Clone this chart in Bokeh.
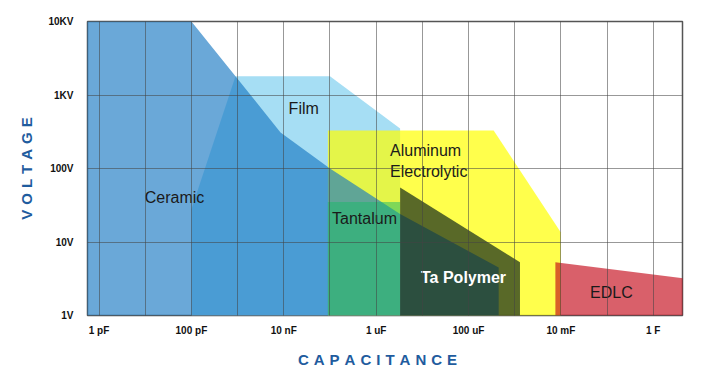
from bokeh.plotting import figure
from bokeh.models import FixedTicker, CustomJSTickFormatter, Range1d
from bokeh.core.properties import value
from bokeh.embed import file_html
from bokeh.resources import INLINE

# ---- axes / ticks ----
cap_ticks = [1e-12, 1e-10, 1e-8, 1e-6, 1e-4, 1e-2, 1e0]
cap_labels = ["1 pF", "100 pF", "10 nF", "1 uF", "100 uF", "10 mF", "1 F"]
cap_grid = [1e-12, 1e-11, 1e-10, 1e-9, 1e-8, 1e-7, 1e-6, 1e-5, 1e-4, 1e-3, 1e-2, 1e-1, 1e0]
volt_ticks = [1, 10, 100, 1000, 10000]
volt_labels = ["1V", "10V", "100V", "1KV", "10KV"]

# ---- technology envelopes (capacitance in F, voltage in V) ----
film_c = [1e-10, 1e-10, 9e-10, 1e-7, 3.3e-6, 3.3e-6]
film_v = [1, 28, 1800, 1800, 350, 1]

alu_c = [9e-8, 9e-8, 3.5e-4, 1e-2, 1e-2]
alu_v = [1, 330, 330, 13.5, 1]

ceramic_c = [5e-13, 5e-13, 1e-10, 9e-10, 8.5e-9, 1e-7, 3.3e-6, 4.5e-4, 4.5e-4]
ceramic_v = [1, 1e4, 1e4, 1800, 310, 100, 24, 4.5, 1]

tant_c = [9e-8, 9e-8, 3.3e-6, 3.3e-6]
tant_v = [1, 35, 35, 1]

tapoly_c = [3.3e-6, 3.3e-6, 1.3e-3, 1.3e-3]
tapoly_v = [1, 55, 5.3, 1]

edlc_c = [7.6e-3, 7.6e-3, 10, 10]
edlc_v = [1, 5.3, 3.0, 1]

# ---- region labels ----
dark_names = ["Ceramic", "Film", "Tantalum", "EDLC"]
dark_c = [4.3e-11, 2.7e-8, 5.6e-7, 0.124]
dark_v = [40, 650, 21, 2.05]

alu_names = ["Aluminum", "Electrolytic"]
alu_lab_c = [2e-6, 2e-6]
alu_lab_v = [176, 91]

poly_names = ["Ta Polymer"]
poly_lab_c = [7.8e-5]
poly_lab_v = [3.3]

p = figure(width=704, height=375, x_axis_type="log", y_axis_type="log",
           x_range=Range1d(10 ** -12.25, 10 ** 0.633), y_range=Range1d(1, 1e4),
           output_backend="svg", toolbar_location=None,
           min_border_left=87, min_border_right=22, min_border_top=21, min_border_bottom=60)
p.background_fill_color = "white"
p.border_fill_color = "white"

p.patch(film_c, film_v, fill_color=(166, 222, 244), fill_alpha=1.0, line_color=None)
p.patch(alu_c, alu_v, fill_color=(255, 255, 0), fill_alpha=0.7, line_color=None)
p.patch(ceramic_c, ceramic_v, fill_color=(22, 119, 194), fill_alpha=0.64, line_color=None)
p.patch(tant_c, tant_v, fill_color=(25, 185, 104), fill_alpha=0.5, line_color=None)
p.patch(tapoly_c, tapoly_v, fill_color=(19, 42, 25), fill_alpha=0.7, line_color=None)
p.patch(edlc_c, edlc_v, fill_color=(195, 3, 19), fill_alpha=0.63, line_color=None)

font = value("Liberation Sans")
p.text(x=dark_c, y=dark_v, text=dark_names, text_font=font, text_font_size=value("16px"),
       text_color="#1a1a1a", text_align="center", text_baseline="middle")
p.text(x=alu_lab_c, y=alu_lab_v, text=alu_names, text_font=font, text_font_size=value("16px"),
       text_color="#1a1a1a", text_align="left", text_baseline="middle")
p.text(x=poly_lab_c, y=poly_lab_v, text=poly_names, text_font=font, text_font_size=value("16px"),
       text_font_style="bold", text_color="white", text_align="center", text_baseline="middle")

# grids
p.xgrid.ticker = FixedTicker(ticks=cap_grid)
p.ygrid.ticker = FixedTicker(ticks=volt_ticks)
p.grid.level = "overlay"
p.grid.grid_line_color = "#444444"
p.grid.grid_line_alpha = 0.55
p.grid.grid_line_width = 1
p.grid.minor_grid_line_color = None

p.outline_line_color = "#555555"
p.outline_line_width = 1.5

# axes
p.xaxis.ticker = FixedTicker(ticks=cap_ticks)
p.yaxis.ticker = FixedTicker(ticks=volt_ticks)
code = """
for (let i = 0; i < tv.length; i++) {
  if (Math.abs(Math.log10(tick) - Math.log10(tv[i])) < 1e-6) return lbl[i];
}
return "";
"""
p.xaxis.formatter = CustomJSTickFormatter(args=dict(tv=cap_ticks, lbl=cap_labels), code=code)
p.yaxis.formatter = CustomJSTickFormatter(args=dict(tv=volt_ticks, lbl=volt_labels), code=code)

for ax in (p.xaxis, p.yaxis):
    ax.axis_line_color = None
    ax.major_tick_line_color = None
    ax.minor_tick_line_color = None
    ax.major_label_text_font = "Liberation Sans"
    ax.major_label_text_font_style = "bold"
    ax.major_label_text_font_size = "10px"
    ax.major_label_text_color = "#111111"
    ax.axis_label_text_font = "Liberation Sans"
    ax.axis_label_text_font_style = "bold"
    ax.axis_label_text_font_size = "15px"
    ax.axis_label_text_color = "#1f5c9e"

sp = "\u2004"
p.xaxis.axis_label = sp.join("CAPACITANCE") + sp * 3
p.yaxis.axis_label = sp.join("VOLTAGE")
p.xaxis.major_label_standoff = 3
p.yaxis.major_label_standoff = 8
p.xaxis.axis_label_standoff = 12
p.yaxis.axis_label_standoff = 10

open("out.html", "w").write(file_html(p, INLINE))
